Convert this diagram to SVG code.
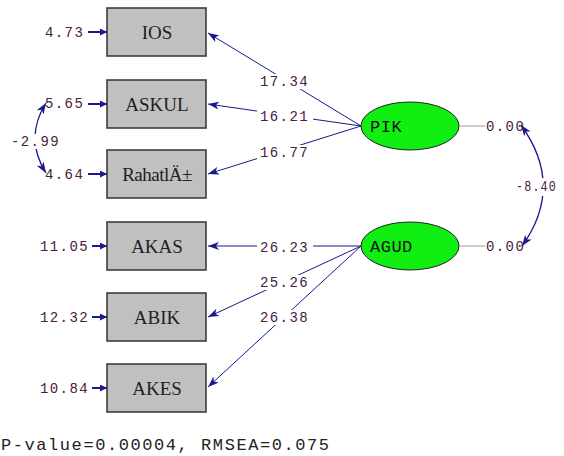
<svg xmlns="http://www.w3.org/2000/svg" width="564" height="456" viewBox="0 0 564 456">
<style>
.box{fill:#c0c0c0;stroke:#333;stroke-width:1.5}
.btxt{font-family:"Liberation Serif",serif;font-size:19px;fill:#222;text-anchor:middle}
.ell{fill:#11ee11;stroke:#222;stroke-width:1}
.etxt{font-family:"Liberation Mono",monospace;font-size:17px;fill:#111;letter-spacing:0.5px}
.num{font-family:"Liberation Mono",monospace;font-size:14px;fill:#4a2040;letter-spacing:1.4px}
.ln{stroke:#1a1a8c;stroke-width:1;fill:none;marker-end:url(#ah)}
.err{stroke:#1a1a8c;stroke-width:2;fill:none;marker-end:url(#ah2)}
.cov{stroke:#1a1a8c;stroke-width:1.3;fill:none;marker-start:url(#ahs);marker-end:url(#ah)}
.bg{fill:#fff}
.gr{stroke:#aaa;stroke-width:1.2}
</style>
<defs>
<marker id="ah" markerUnits="userSpaceOnUse" markerWidth="12" markerHeight="8" refX="11" refY="4" orient="auto"><path d="M0,0 L11,4 L0,8 L3,4 z" fill="#1a1a8c"/></marker>
<marker id="ahs" markerUnits="userSpaceOnUse" markerWidth="12" markerHeight="8" refX="0" refY="4" orient="auto"><path d="M11,0 L0,4 L11,8 L8,4 z" fill="#1a1a8c"/></marker>
<marker id="ah2" markerUnits="userSpaceOnUse" markerWidth="8" markerHeight="8" refX="7" refY="3.5" orient="auto"><path d="M0,0 L7,3.5 L0,7 z" fill="#1a1a8c"/></marker>
</defs>

<g id="connectors">
<line class="ln" x1="361" y1="126" x2="208" y2="33"/>
<line class="ln" x1="361" y1="126" x2="208" y2="104"/>
<line class="ln" x1="361" y1="126" x2="208" y2="174"/>
<line class="ln" x1="361" y1="246" x2="208" y2="246"/>
<line class="ln" x1="361" y1="246" x2="208" y2="317"/>
<line class="ln" x1="361" y1="246" x2="208" y2="387"/>
<line class="err" x1="88" y1="32" x2="107" y2="32"/>
<line class="err" x1="88" y1="104" x2="107" y2="104"/>
<line class="err" x1="88" y1="174" x2="107" y2="174"/>
<line class="err" x1="92" y1="246" x2="107" y2="246"/>
<line class="err" x1="92" y1="317" x2="107" y2="317"/>
<line class="err" x1="92" y1="388" x2="107" y2="388"/>
<path class="cov" d="M46,103 Q24,138 46,173"/>
<path class="cov" d="M521,125 Q565,186 522,246"/>
<line class="gr" x1="460" y1="126" x2="485" y2="126"/>
<line class="gr" x1="460" y1="246" x2="485" y2="246"/>
<rect class="bg" x="257" y="74" width="56" height="15"/>
<rect class="bg" x="257" y="109" width="56" height="15"/>
<rect class="bg" x="257" y="145" width="56" height="15"/>
<rect class="bg" x="257" y="240" width="56" height="15"/>
<rect class="bg" x="257" y="275" width="56" height="15"/>
<rect class="bg" x="257" y="310" width="56" height="15"/>
<rect class="bg" x="8" y="134" width="56" height="15"/>
<rect class="bg" x="514" y="178" width="50" height="18"/>
<text class="num" x="516" y="191" textLength="41" lengthAdjust="spacingAndGlyphs" letter-spacing="0">-8.40</text>
<text class="num" x="260" y="86">17.34</text>
<text class="num" x="260" y="121">16.21</text>
<text class="num" x="260" y="157">16.77</text>
<text class="num" x="260" y="252">26.23</text>
<text class="num" x="260" y="287">25.26</text>
<text class="num" x="260" y="322">26.38</text>
<text class="num" x="45" y="37">4.73</text>
<text class="num" x="45" y="108">5.65</text>
<text class="num" x="45" y="179">4.64</text>
<text class="num" x="40" y="251">11.05</text>
<text class="num" x="40" y="322">12.32</text>
<text class="num" x="40" y="393">10.84</text>
<text class="num" x="11" y="146">-2.99</text>
<text class="num" x="486" y="131">0.00</text>
<text class="num" x="486" y="251">0.00</text>
</g>

<g id="IOS"><rect class="box" x="107" y="8" width="99" height="48"/><text class="btxt" x="157" y="39">IOS</text></g>
<g id="ASKUL"><rect class="box" x="107" y="80" width="99" height="48"/><text class="btxt" x="157" y="111">ASKUL</text></g>
<g id="Rahatli"><rect class="box" x="107" y="150" width="99" height="48"/><text class="btxt" x="157" y="181" letter-spacing="-0.5">RahatlÄ±</text></g>
<g id="AKAS"><rect class="box" x="107" y="222" width="99" height="48"/><text class="btxt" x="157" y="253">AKAS</text></g>
<g id="ABIK"><rect class="box" x="107" y="293" width="99" height="48"/><text class="btxt" x="157" y="324">ABIK</text></g>
<g id="AKES"><rect class="box" x="107" y="364" width="99" height="48"/><text class="btxt" x="157" y="395">AKES</text></g>
<g id="PIK"><ellipse class="ell" cx="410" cy="126" rx="49" ry="24"/><text class="etxt" x="370" y="132">PIK</text></g>
<g id="AGUD"><ellipse class="ell" cx="410" cy="246" rx="49" ry="24"/><text class="etxt" x="370" y="252">AGUD</text></g>

<text x="1" y="450" font-family="Liberation Mono, monospace" font-size="17" fill="#222" textLength="328" lengthAdjust="spacing">P-value=0.00004, RMSEA=0.075</text>
</svg>
